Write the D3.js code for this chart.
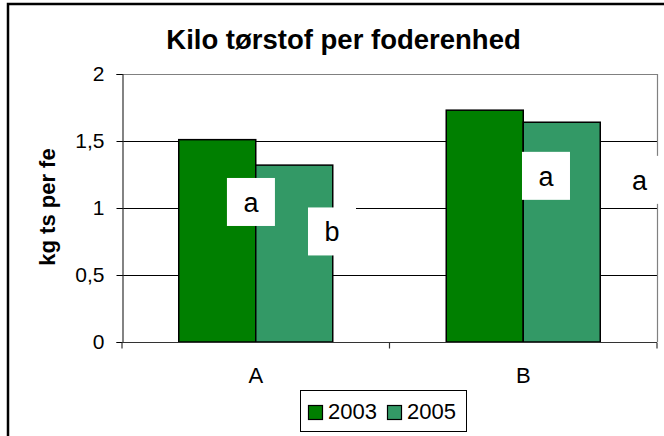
<!DOCTYPE html>
<html>
<head>
<meta charset="utf-8">
<script src="https://cdn.jsdelivr.net/npm/d3@7"></script>
<style>
  html, body { margin: 0; padding: 0; background: #fff; }
  svg { display: block; font-family: "Liberation Sans", Arial, sans-serif; }
</style>
</head>
<body>
<svg id="chart" width="664" height="436"></svg>
<script>
// ---- data ----
const categories = ["A", "B"];
const seriesNames = ["2003", "2005"];
const values2003 = [1.51, 1.73];
const values2005 = [1.32, 1.64];
const seriesColors = ["#007F00", "#339966"];
const yTicks = [0, 0.5, 1, 1.5, 2];
const yTickLabels = ["0", "0,5", "1", "1,5", "2"];
const titleText = "Kilo tørstof per foderenhed";
const yTitle = "kg ts per fe";
// significance letters: x in category units (0..2 across plot), y in value units
const letterText = ["a", "b", "a", "a"];
const letterX = [0.482, 0.785, 1.585, 1.935];
const letterY = [1.045, 0.825, 1.24, 1.21];

// ---- layout ----
const svg = d3.select("#chart");
const plot = { left: 122, right: 657, top: 74, bottom: 342 };

// outer frame
svg.append("rect").attr("x", 8).attr("y", 4).attr("width", 700).attr("height", 500)
  .attr("fill", "#fff").attr("stroke", "#000").attr("stroke-width", 2.5);

const y = d3.scaleLinear().domain([0, 2]).range([plot.bottom, plot.top]);
const x0 = d3.scaleBand().domain(categories).range([plot.left, plot.right]).padding(0);
const x1 = d3.scaleBand().domain(seriesNames).range([0, x0.bandwidth()])
  .paddingInner(0).paddingOuter(0.737);
const xu = d3.scaleLinear().domain([0, 2]).range([plot.left, plot.right]);

// gridlines
svg.append("g").selectAll("line").data(yTicks.filter(t => t > 0 && t < 2)).join("line")
  .attr("x1", plot.left).attr("x2", plot.right)
  .attr("y1", d => Math.round(y(d)) + 0.5).attr("y2", d => Math.round(y(d)) + 0.5)
  .attr("stroke", "#000").attr("stroke-width", 1);

// plot area border (top & right grey)
svg.append("path")
  .attr("d", `M${plot.left},${plot.top + 0.5}H${plot.right + 0.5}V${plot.bottom}`)
  .attr("fill", "none").attr("stroke", "#808080").attr("stroke-width", 1.2);

// bars
const rows = categories.map((c, i) => ({ cat: c, vals: [values2003[i], values2005[i]] }));
const g = svg.append("g");
rows.forEach(r => {
  r.vals.forEach((v, j) => {
    g.append("rect")
      .attr("x", x0(r.cat) + x1(seriesNames[j]))
      .attr("y", y(v))
      .attr("width", x1.bandwidth())
      .attr("height", y(0) - y(v))
      .attr("fill", seriesColors[j])
      .attr("stroke", "#000").attr("stroke-width", 1.5);
  });
});

// y axis
const yAxis = d3.axisLeft(y).tickValues(yTicks).tickSize(6).tickPadding(12)
  .tickFormat((d, i) => yTickLabels[i]);
const ya = svg.append("g").attr("transform", `translate(${plot.left + 0.5},0)`).call(yAxis);
ya.select(".domain").attr("stroke", "#333").attr("stroke-width", 1.2);
ya.selectAll(".tick line").attr("stroke", "#000");
ya.selectAll(".tick text").attr("font-size", 21).attr("fill", "#000")
  .attr("font-family", "Liberation Sans, Arial, sans-serif");

// x axis (category boundaries as ticks)
const xa = svg.append("g").attr("transform", `translate(0,${plot.bottom + 0.5})`);
xa.append("line").attr("x1", plot.left).attr("x2", plot.right)
  .attr("stroke", "#333").attr("stroke-width", 1.2);
const bounds = categories.map(c => x0(c)).concat([x0(categories[categories.length - 1]) + x0.bandwidth()]);
xa.selectAll("line.tk").data(bounds).join("line").attr("class", "tk")
  .attr("x1", d => d).attr("x2", d => d).attr("y1", 0).attr("y2", 6)
  .attr("stroke", "#333").attr("stroke-width", 1.2);
xa.selectAll("text").data(categories).join("text")
  .attr("x", d => x0(d) + x0.bandwidth() / 2).attr("y", 40)
  .attr("text-anchor", "middle").attr("font-size", 22).attr("fill", "#000")
  .text(d => d);

// significance letters with white boxes
const lg = svg.append("g");
letterText.forEach((t, i) => {
  const cx = xu(letterX[i]), cy = y(letterY[i]);
  lg.append("rect").attr("x", cx - 24).attr("y", cy - 24).attr("width", 48).attr("height", 48)
    .attr("fill", "#fff");
  lg.append("text").attr("x", cx).attr("y", cy + 10).attr("text-anchor", "middle")
    .attr("font-size", 27).attr("fill", "#000").text(t);
});

// title
svg.append("text").attr("x", 343.5).attr("y", 49).attr("text-anchor", "middle")
  .attr("font-size", 27.5).attr("font-weight", "bold").text(titleText);

// y title
svg.append("text").attr("transform", `translate(55,${207}) rotate(-90)`)
  .attr("text-anchor", "middle").attr("font-size", 22).attr("font-weight", "bold")
  .text(yTitle);

// legend
const leg = svg.append("g");
leg.append("rect").attr("x", 300.5).attr("y", 390.5).attr("width", 166).attr("height", 41)
  .attr("fill", "#fff").attr("stroke", "#000").attr("stroke-width", 1);
const legX = [308, 387];
seriesNames.forEach((s, i) => {
  leg.append("rect").attr("x", legX[i] + 0.5).attr("y", 405.5).attr("width", 14).attr("height", 14)
    .attr("fill", seriesColors[i]).attr("stroke", "#000").attr("stroke-width", 1.2);
  leg.append("text").attr("x", legX[i] + 20).attr("y", 419).attr("font-size", 22)
    .attr("fill", "#000").text(s);
});
</script>
</body>
</html>
